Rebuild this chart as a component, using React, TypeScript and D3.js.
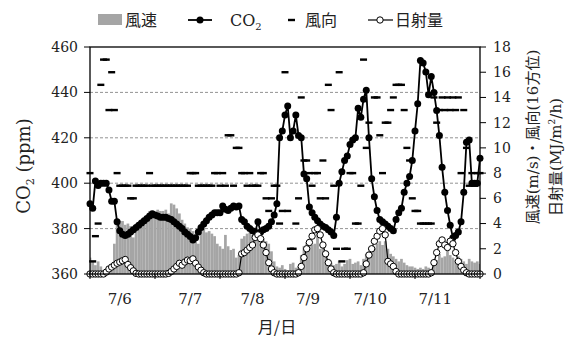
import React from 'react';
import * as d3 from 'd3';

// hourly values, 7/6 0:00 .. 7/12 0:00
const co2 = [
  391, 389, 401, 399, 400, 400, 400, 397, 392, 392,
  383, 379, 377.5, 377, 377.5, 378.5, 379.5, 380.5, 381.5, 382.5,
  383.5, 384.5, 385.5, 386.5, 386, 385.5, 385, 385, 385, 384.5,
  384, 383, 382, 381, 380, 378.5, 377.5, 376.5, 375, 376,
  378.5, 380.5, 382, 383.5, 385, 386, 387, 387, 387, 390,
  388.5, 388, 389, 390, 389.5, 390, 384, 383, 381, 380,
  379, 378.5, 383, 378.5, 379.5, 380, 381, 383, 386, 391,
  420, 423, 430, 434, 420, 423, 430, 421, 420, 404,
  402, 389.5, 387, 385, 383.5, 382, 381, 380.5, 379.5, 378.5,
  377, 385, 400, 405, 410, 412, 417, 419, 420, 433,
  429, 437, 441, 420, 402, 394, 388, 384, 383, 382,
  381, 380, 379, 384, 387, 389, 396, 400, 403, 410,
  423, 435, 454, 453, 449, 439, 447, 440, 432, 421,
  407, 396, 388, 381.5, 376, 377, 378.5, 383, 396, 418,
  419, 400, 400, 400, 411,
];

const solar = [
  0, 0, 0, 0, 0, 0,
  0.15, 0.4, 0.55, 0.7, 0.85, 0.95, 1.05, 1.15, 0.75, 0.5, 0.25, 0.05,
  0, 0, 0, 0, 0, 0, 0, 0, 0, 0, 0,
  0.05, 0.2, 0.4, 0.6, 0.85, 0.7, 0.95, 1.1, 1.05, 1.2, 0.85, 0.55, 0.3, 0.1,
  0, 0, 0, 0, 0, 0, 0, 0, 0, 0, 0, 0,
  0.1, 1.6, 1.7, 1.9, 2.1, 2.3, 2.9, 3.1, 2.8, 2.3, 1.7, 0.9, 0.4, 0.1,
  0, 0, 0, 0, 0, 0, 0, 0,
  0.1, 0.6, 1.3, 2.0, 2.5, 3.0, 3.5, 3.6, 3.1, 2.3, 1.6, 0.9, 0.4, 0.1,
  0, 0, 0, 0, 0, 0, 0, 0, 0, 0,
  0.1, 0.8, 1.5, 2.0, 2.6, 3.0, 3.4, 3.6, 3.1, 1.0, 0.8, 0.6, 0.2,
  0, 0, 0, 0, 0, 0, 0, 0, 0, 0, 0, 0,
  0.1, 0.9, 1.7, 2.4, 2.7, 2.3, 2.1, 2.6, 2.4, 1.7, 1.0, 0.6, 0.3, 0.1,
  0, 0, 0, 0, 0,
];

const windSpeed = [
  1.3, 1.0, 0.7, 1.0, 0.6, 0.3, 0.2, 0.2, 0.3, 2.4,
  4.3, 4.2, 4.2, 3.9, 4.0, 3.8, 2.9, 3.5, 3.6, 4.0,
  4.3, 4.6, 5.0, 5.0, 4.8, 5.1, 5.0, 5.0, 5.1, 4.8,
  5.6, 5.5, 5.2, 4.8, 4.3, 4.0, 3.7, 3.6, 3.4, 3.0,
  2.4, 3.5, 3.6, 3.3, 3.4, 3.2, 3.0, 2.4, 2.2, 2.0,
  3.1, 2.2, 1.9, 2.0, 1.3, 1.5, 2.8, 3.0, 3.2, 3.3,
  3.1, 3.0, 3.2, 3.0, 2.8, 2.6, 2.4, 1.8, 1.0, 0.6,
  0.5, 0.7, 0.4, 0.3, 0.8, 0.9, 0.5, 0.6, 1.5, 2.2,
  2.5, 2.8, 2.3, 2.4, 3.3, 2.0, 2.5, 1.6, 1.2, 0.9,
  0.7, 0.8, 1.0, 0.6, 0.8, 1.1, 1.2, 0.8, 0.9, 1.0,
  0.7, 1.2, 1.6, 1.8, 2.2, 2.0, 2.4, 2.6, 2.3, 2.6,
  2.0, 1.6, 1.4, 1.2, 1.0, 1.2, 0.9, 0.7, 0.6, 0.6,
  0.5, 0.4, 0.5, 0.4, 0.6, 0.5, 0.4, 0.8, 1.1, 1.6,
  1.3, 1.4, 1.9, 1.5, 1.3, 1.1, 1.4, 1.2, 1.0, 0.8,
  1.2, 1.0, 0.9, 1.0, 0.8,
];

// 16 directions
const windDir = [
  8, 1, 3, 4, 15, 17, 17, 13, 16, 13,
  8, 7, 7, 7, 7, 6, 6, 7, 7, 7,
  7, 7, 8, 7, 7, 7, 7, 7, 7, 7,
  7, 7, 7, 7, 7, 7, 7, 8, 8, 8,
  7, 7, 7, 7, 7, 7, 8, 8, 7, 8,
  7, 11, 11, 7, 10, 10, 8, 8, 7, 8,
  7, 7, 7, 8, 8, 6, 5, 6, 7, 7,
  4, 5, 16, 5, 2, 2, 4, 6, 14, 9,
  9, 8, 7, 8, 8, 6, 9, 6, 15, 13,
  7, 2, 16, 1, 2, 2, 8, 8, 4, 4,
  7, 17, 10, 12, 2, 14, 14, 11, 8, 12,
  12, 13, 14, 15, 15, 15, 13, 10, 9, 6,
  5, 5, 4, 4, 4, 4, 4, 14, 12, 13,
  14, 13, 14, 13, 14, 13, 14, 8, 13, 10,
  7, 8, 7, 8, 8,
];

const dayLabels = ['7/6', '7/7', '7/8', '7/9', '7/10', '7/11'];
// hour at which each day label sits
const dayLabelHours = [11, 37, 60, 80.5, 103.5, 127.5];
const co2Ticks = [360, 380, 400, 420, 440, 460];
const rightTicks = [0, 2, 4, 6, 8, 10, 12, 14, 16, 18];

const serif = '"DejaVu Serif", "Noto Sans CJK JP", serif';
const jp = '"Noto Sans CJK JP", "DejaVu Serif", serif';

export default function App() {
  const left = 90, right = 480, top = 47, bottom = 274;
  const x = d3.scaleLinear().domain([0, 144]).range([left, right]);
  const yL = d3.scaleLinear().domain([360, 460]).range([bottom, top]);
  const yR = d3.scaleLinear().domain([0, 18]).range([bottom, top]);
  const bw = x(1) - x(0);

  const co2Line = d3.line<number>().x((d, i) => x(i)).y(d => yL(d));
  const solarLine = d3.line<number>().x((d, i) => x(i)).y(d => yR(d));

  return (
    <svg width={579} height={338} style={{ display: 'block', position: 'absolute', left: 0, top: 0 }}>
      <rect width={579} height={338} fill="#fff" />
      <defs>
        <clipPath id="plot">
          <rect x={left} y={top} width={right - left} height={bottom - top} />
        </clipPath>
      </defs>

      {/* gridlines */}
      {co2Ticks.slice(1, -1).map(t => (
        <line key={t} x1={left} x2={right} y1={yL(t)} y2={yL(t)} stroke="#777" strokeWidth={0.8} strokeDasharray="3,2" />
      ))}

      {/* wind speed bars */}
      <g clipPath="url(#plot)">
        {windSpeed.map((v, i) => (
          <rect key={i} x={x(i) - bw / 2} y={yR(v)} width={bw} height={bottom - yR(v)} fill="#a5a5a5" />
        ))}
      </g>

      {/* wind direction */}
      {windDir.map((v, i) => (
        <rect key={i} x={x(i) - 3.5} y={yR(v) - 1.2} width={7} height={2.4} fill="#000" />
      ))}

      {/* CO2 */}
      <path d={co2Line(co2) || ''} fill="none" stroke="#000" strokeWidth={1.8} />
      {co2.map((v, i) => (
        <circle key={i} cx={x(i)} cy={yL(v)} r={3.5} fill="#000" />
      ))}

      {/* solar radiation */}
      <path d={solarLine(solar) || ''} fill="none" stroke="#000" strokeWidth={1.2} />
      {solar.map((v, i) => (
        <circle key={i} cx={x(i)} cy={yR(v)} r={3.2} fill="#fff" stroke="#000" strokeWidth={1} />
      ))}

      {/* frame */}
      <rect x={left} y={top} width={right - left} height={bottom - top} fill="none" stroke="#000" strokeWidth={1.3} />

      {/* left axis */}
      {co2Ticks.map(t => (
        <g key={t}>
          <line x1={left - 6} x2={left} y1={yL(t)} y2={yL(t)} stroke="#000" strokeWidth={1} />
          <text x={left - 12} y={yL(t)} dy="0.35em" textAnchor="end" fontFamily={serif} fontSize={14} fill="#222">{t}</text>
        </g>
      ))}

      {/* right axis */}
      {rightTicks.map(t => (
        <g key={t}>
          <line x1={right} x2={right + 6} y1={yR(t)} y2={yR(t)} stroke="#000" strokeWidth={1} />
          <text x={right + 13} y={yR(t)} dy="0.35em" textAnchor="start" fontFamily={serif} fontSize={14} fill="#222">{t}</text>
        </g>
      ))}

      {/* x axis */}
      {d3.range(0, 145, 24).map(h => (
        <line key={h} x1={x(h)} x2={x(h)} y1={bottom} y2={bottom + 5} stroke="#000" strokeWidth={1} />
      ))}
      {dayLabels.map((d, i) => (
        <text key={d} x={x(dayLabelHours[i])} y={304} textAnchor="middle" fontFamily={serif} fontSize={15} fill="#222">{d}</text>
      ))}
      <text x={277} y={333} textAnchor="middle" fontFamily={jp} fontSize={16} fill="#222">月/日</text>

      {/* axis titles */}
      <text transform="translate(30,166) rotate(-90)" textAnchor="middle" fontFamily={serif} fontSize={18} fill="#222">
        CO<tspan fontSize={11} dy={4}>2</tspan><tspan dy={-4}> (ppm)</tspan>
      </text>
      <text transform="translate(538,137) rotate(-90)" textAnchor="middle" fontFamily={jp} fontSize={15} fill="#222">
        風速<tspan fontFamily={serif}>(m/s)</tspan>・風向<tspan fontFamily={serif}>(16</tspan>方位<tspan fontFamily={serif}>)</tspan>
      </text>
      <text transform="translate(561,157) rotate(-90)" textAnchor="middle" fontFamily={jp} fontSize={15} fill="#222">
        日射量<tspan fontFamily={serif}>(MJ/m</tspan><tspan fontFamily={serif} fontSize={9} dy={-6}>2</tspan><tspan fontFamily={serif} dy={6}>/h)</tspan>
      </text>

      {/* legend */}
      <rect x={98} y={14} width={24} height={11} fill="#a5a5a5" />
      <text x={125} y={26} fontFamily={jp} fontSize={16} fill="#222">風速</text>
      <line x1={188} x2={212} y1={20} y2={20} stroke="#000" strokeWidth={1.8} />
      <circle cx={200} cy={20} r={3.5} fill="#000" />
      <text x={230} y={26} fontFamily={serif} fontSize={16} fill="#222">
        CO<tspan fontSize={10} dy={4}>2</tspan>
      </text>
      <rect x={288} y={18.8} width={7} height={2.4} fill="#000" />
      <text x={305} y={26} fontFamily={jp} fontSize={16} fill="#222">風向</text>
      <line x1={368} x2={393} y1={20} y2={20} stroke="#000" strokeWidth={1.2} />
      <circle cx={380} cy={20} r={3.2} fill="#fff" stroke="#000" strokeWidth={1} />
      <text x={395} y={26} fontFamily={jp} fontSize={16} fill="#222">日射量</text>
    </svg>
  );
}
